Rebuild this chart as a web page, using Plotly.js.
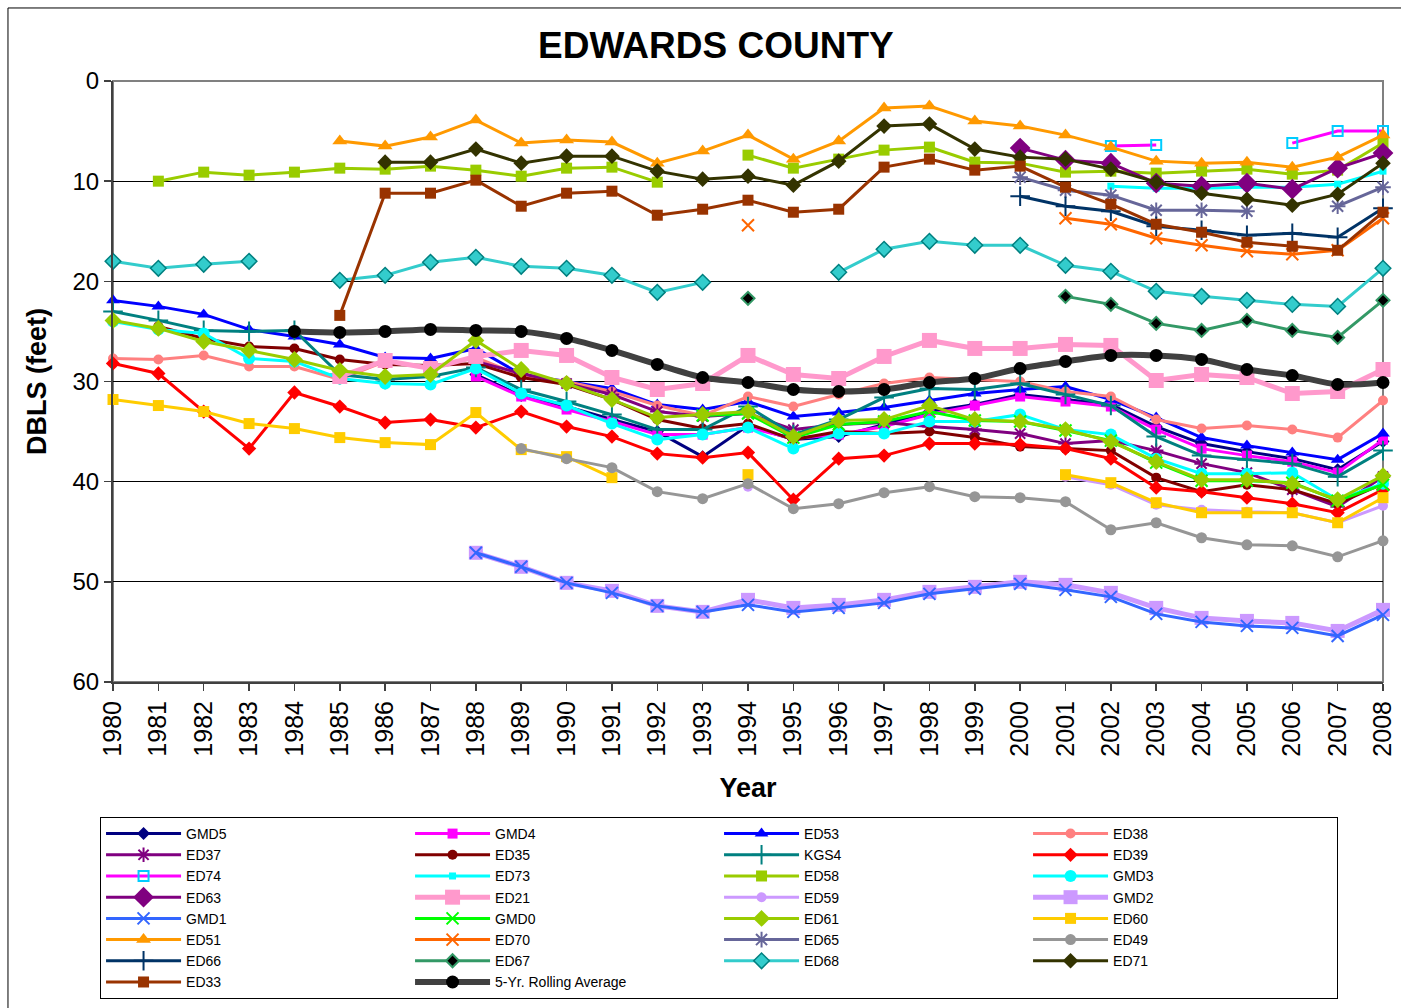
<!DOCTYPE html>
<html>
<head>
<meta charset="utf-8">
<script src="https://cdn.plot.ly/plotly-3.0.1.min.js"></script>
<style>html,body{margin:0;padding:0;background:#fff;}#chart{width:1401px;height:1008px;}</style>
</head>
<body>
<div id="chart"></div>
<script>
const n = null;
const years = [1980,1981,1982,1983,1984,1985,1986,1987,1988,1989,1990,1991,1992,1993,1994,1995,1996,1997,1998,1999,2000,2001,2002,2003,2004,2005,2006,2007,2008];

const GMD5 = [n,n,n,n,n,n,n,n,29.3,31.4,32.5,33.8,35.0,37.5,34.4,35.8,35.5,34.3,33.0,32.3,31.3,31.8,32.3,34.5,36.2,37.0,37.7,38.8,36.0];
const GMD4 = [n,n,n,n,n,n,n,n,29.5,31.5,32.8,34.0,35.3,35.3,34.6,35.7,35.3,34.5,33.3,32.4,31.5,32.0,32.5,34.8,36.7,37.4,38.0,39.1,35.8];
const ED53 = [21.9,22.5,23.3,24.8,25.5,26.3,27.6,27.7,26.7,29.3,30.0,30.7,32.3,32.8,32.0,33.5,33.1,32.6,31.9,31.2,30.8,30.5,31.8,33.6,35.6,36.4,37.1,37.8,35.2];
const ED38 = [27.7,27.8,27.4,28.5,28.5,29.8,28.0,28.6,27.6,29.4,30.0,31.0,32.4,33.4,31.5,32.5,31.3,30.2,29.6,29.8,30.0,31.0,31.5,33.8,34.7,34.4,34.8,35.6,31.9];
const ED37 = [n,n,n,n,n,n,n,n,28.0,29.2,30.2,31.3,33.0,33.5,33.2,34.8,34.3,34.1,34.5,34.8,35.2,36.2,35.9,36.9,38.2,39.1,40.8,42.5,39.5];
const ED35 = [n,24.5,25.7,26.5,26.7,27.8,28.3,28.4,28.2,29.6,30.3,31.8,33.8,34.7,34.2,35.8,35.0,35.2,35.0,35.6,36.5,36.7,36.9,39.6,41.0,40.3,40.8,42.2,40.2];
const KGS4 = [23.0,23.9,24.9,25.0,24.9,29.3,29.8,29.5,28.6,30.8,32.0,33.3,34.8,34.8,32.5,35.3,33.8,31.6,30.7,30.8,30.2,31.3,32.4,35.5,37.4,37.8,38.2,39.5,36.9];
const ED39 = [28.2,29.2,33.0,36.7,31.1,32.5,34.1,33.8,34.6,33.0,34.5,35.5,37.2,37.6,37.1,41.8,37.7,37.4,36.2,36.2,36.3,36.7,37.7,40.6,41.0,41.6,42.2,43.1,40.8];
const ED74 = [n,n,n,n,n,n,n,n,n,n,n,n,n,n,n,n,n,n,n,n,n,n,6.5,6.4,n,n,6.2,5.0,5.0];
const ED73 = [n,n,n,n,n,n,n,n,n,n,n,n,n,n,n,n,n,n,n,n,n,n,10.5,10.7,10.7,10.6,10.6,10.3,9.0];
const ED58 = [n,10.0,9.1,9.4,9.1,8.7,8.8,8.5,8.9,9.5,8.7,8.6,10.1,n,7.4,8.7,7.8,6.9,6.6,8.1,8.2,9.1,9.0,9.2,9.0,8.8,9.3,8.9,6.2];
const GMD3 = [24.0,24.8,25.2,27.7,28.0,29.7,30.2,30.3,28.7,31.2,32.4,34.2,35.8,35.3,34.6,36.7,35.2,35.2,34.0,34.0,33.3,34.8,35.3,37.7,39.2,39.2,39.1,41.8,40.2];
const ED63 = [n,n,n,n,n,n,n,n,n,n,n,n,n,n,n,n,n,n,n,n,6.7,7.9,8.2,10.2,10.5,10.2,10.8,8.7,7.2];
const ED21 = [n,n,n,n,n,29.5,27.9,28.7,27.5,26.9,27.4,29.6,30.8,30.2,27.4,29.3,29.7,27.5,25.9,26.7,26.7,26.3,26.4,29.9,29.3,29.6,31.2,31.0,28.8];
const ED59 = [n,n,n,n,n,n,n,n,n,n,n,n,n,n,40.5,n,n,n,n,n,n,39.5,40.3,42.3,42.8,43.0,43.1,44.1,42.4];
const GMD2 = [n,n,n,n,n,n,n,n,47.1,48.5,50.1,50.9,52.4,53.0,51.8,52.6,52.3,51.8,51.0,50.5,50.0,50.3,51.1,52.6,53.6,53.9,54.1,54.9,52.8];
const GMD1 = [n,n,n,n,n,n,n,n,47.1,48.5,50.1,51.1,52.4,53.0,52.3,53.0,52.6,52.1,51.2,50.7,50.2,50.8,51.5,53.2,54.0,54.4,54.6,55.4,53.3];
const GMD0 = [n,n,n,n,n,n,n,n,n,n,n,n,n,33.4,33.2,35.6,34.3,34.0,33.0,33.9,34.0,34.9,35.9,38.1,39.9,39.9,40.1,41.9,40.3];
const ED61 = [23.9,24.7,26.0,26.9,27.8,28.9,29.5,29.3,25.9,28.8,30.2,31.8,33.6,33.3,33.0,35.5,33.9,33.8,32.4,33.8,34.0,34.8,36.0,38.0,39.8,39.8,40.2,41.8,39.4];
const ED60 = [31.8,32.4,33.0,34.2,34.7,35.6,36.1,36.3,33.1,36.8,37.5,39.6,n,n,39.3,n,n,n,n,n,n,39.3,40.1,42.1,43.1,43.1,43.1,44.1,41.6];
const ED51 = [n,n,n,n,n,6.0,6.5,5.6,3.9,6.2,5.9,6.1,8.2,7.0,5.4,7.8,6.0,2.7,2.5,4.0,4.5,5.4,6.6,8.0,8.2,8.1,8.6,7.6,5.4];
const ED70 = [n,n,n,n,n,n,n,n,n,n,n,n,n,n,14.4,n,n,n,n,n,n,13.7,14.3,15.7,16.4,17.0,17.3,16.9,13.7];
const ED65 = [n,n,n,n,n,n,n,n,n,n,n,n,n,n,n,n,n,n,n,n,9.6,10.9,11.4,12.9,12.9,13.0,n,12.5,10.6];
const ED49 = [n,n,n,n,n,n,n,n,n,36.7,37.7,38.6,41.0,41.7,40.2,42.7,42.2,41.1,40.5,41.5,41.6,42.0,44.8,44.1,45.6,46.3,46.4,47.5,45.9];
const ED66 = [n,n,n,n,n,n,n,n,n,n,n,n,n,n,n,n,n,n,n,n,11.5,12.5,13.0,14.5,14.9,15.4,15.2,15.6,12.7];
const ED67 = [n,n,n,n,n,n,n,n,n,n,n,n,n,n,21.7,n,n,n,n,n,n,21.5,22.3,24.2,24.9,23.9,24.9,25.6,21.9];
const ED68 = [18.0,18.7,18.3,18.0,n,19.9,19.4,18.1,17.6,18.5,18.7,19.4,21.1,20.1,n,n,19.1,16.8,16.0,16.4,16.4,18.4,19.0,21.0,21.5,21.9,22.3,22.5,18.7];
const ED71 = [n,n,n,n,n,n,8.1,8.1,6.8,8.2,7.5,7.5,9.0,9.8,9.5,10.4,8.0,4.5,4.3,6.8,7.6,7.8,8.8,10.1,11.2,11.8,12.4,11.3,8.2];
const ED33 = [n,n,n,n,n,23.4,11.2,11.2,9.9,12.5,11.2,11.0,13.4,12.8,11.9,13.1,12.8,8.6,7.8,8.9,8.5,10.6,12.3,14.3,15.1,16.1,16.5,16.9,13.1];
const ROLL5 = [n,n,n,n,25.0,25.1,25.0,24.8,24.9,25.0,25.7,26.9,28.3,29.6,30.1,30.8,31.0,30.8,30.1,29.7,28.7,28.0,27.4,27.4,27.8,28.8,29.4,30.3,30.1];

const FONT = 'Liberation Sans, Arial, sans-serif';

function tr(name, y, lineColor, symbol, size, opts) {
  opts = opts || {};
  const open = symbol.indexOf('-open') >= 0;
  const marker = {symbol: symbol, size: size, color: opts.mcolor || lineColor};
  if (open) marker.line = {color: opts.mcolor || lineColor, width: opts.mlw || 2};
  else if (opts.outline) marker.line = {color: opts.outline, width: opts.mlw || 1.5};
  return {
    type: 'scatter', mode: 'lines+markers', name: name, x: years, y: y,
    connectgaps: false, cliponaxis: false,
    line: {color: lineColor, width: opts.lw || 3, shape: opts.shape || 'linear', smoothing: 0.8},
    marker: marker, hoverinfo: 'skip'
  };
}

const traces = [
  tr('GMD5', GMD5, '#000080', 'diamond', 10),
  tr('GMD4', GMD4, '#FF00FF', 'square', 10),
  tr('ED53', ED53, '#0000FF', 'triangle-up', 12),
  tr('ED38', ED38, '#FF8080', 'circle', 10),
  tr('ED37', ED37, '#800080', 'asterisk-open', 12),
  tr('ED35', ED35, '#800000', 'circle', 10),
  tr('KGS4', KGS4, '#008080', 'cross-thin-open', 14),
  tr('ED39', ED39, '#FF0000', 'diamond', 11),
  tr('ED74', ED74, '#FF00FF', 'square-open', 10, {mcolor: '#00CCFF'}),
  tr('ED73', ED73, '#00FFFF', 'square', 7),
  tr('ED58', ED58, '#99CC00', 'square', 11),
  tr('GMD3', GMD3, '#00FFFF', 'circle', 12),
  tr('ED63', ED63, '#800080', 'diamond', 16),
  tr('ED21', ED21, '#FF99CC', 'square', 15, {lw: 5}),
  tr('ED59', ED59, '#CC99FF', 'circle', 10),
  tr('GMD2', GMD2, '#CC99FF', 'square', 14, {lw: 5}),
  tr('GMD1', GMD1, '#3366FF', 'x-thin-open', 12),
  tr('GMD0', GMD0, '#00FF00', 'x-thin-open', 12),
  tr('ED61', ED61, '#99CC00', 'diamond', 13),
  tr('ED60', ED60, '#FFCC00', 'square', 11),
  tr('ED51', ED51, '#FF9900', 'triangle-up', 13),
  tr('ED70', ED70, '#FF6600', 'x-thin-open', 12),
  tr('ED65', ED65, '#666699', 'asterisk-open', 13),
  tr('ED49', ED49, '#969696', 'circle', 11),
  tr('ED66', ED66, '#003366', 'cross-thin-open', 14),
  tr('ED67', ED67, '#339966', 'diamond', 10, {mcolor: '#000000', outline: '#339966', mlw: 2}),
  tr('ED68', ED68, '#33CCCC', 'diamond', 12, {outline: '#008080', mlw: 1.5}),
  tr('ED71', ED71, '#333300', 'diamond', 12),
  tr('ED33', ED33, '#993300', 'square', 11),
  tr('5-Yr. Rolling Average', ROLL5, '#404040', 'circle', 13, {lw: 6, mcolor: '#000000', shape: 'spline'})
];

const layout = {
  width: 1401, height: 1008,
  paper_bgcolor: '#ffffff', plot_bgcolor: '#ffffff',
  margin: {l: 113, r: 18, t: 81, b: 326, pad: 0, autoexpand: false},
  font: {family: FONT, color: '#000000'},
  showlegend: true,
  title: {text: '<b>EDWARDS COUNTY</b>', font: {family: FONT, size: 37, color: '#000'},
          xref: 'container', x: 0.511, xanchor: 'center', yref: 'container', y: 0.955, yanchor: 'middle'},
  xaxis: {
    range: [1980, 2008], dtick: 1, tick0: 1980, tickangle: -90,
    tickfont: {family: FONT, size: 25, color: '#000'},
    ticks: 'outside', ticklen: 7, tickwidth: 1.5, tickcolor: '#404040',
    showline: true, linecolor: '#404040', linewidth: 2,
    showgrid: false, zeroline: false,
    title: {text: '<b>Year</b>', font: {family: FONT, size: 27, color: '#000'}, standoff: 22}
  },
  yaxis: {
    range: [60, 0], dtick: 10, tick0: 0,
    tickfont: {family: FONT, size: 24, color: '#000'},
    ticks: 'outside', ticklen: 7, tickwidth: 1.5, tickcolor: '#404040',
    showline: true, linecolor: '#404040', linewidth: 2,
    showgrid: true, gridcolor: '#000000', gridwidth: 1, zeroline: false,
    title: {text: '<b>DBLS (feet)</b>', font: {family: FONT, size: 27, color: '#000'}, standoff: 18}
  },
  legend: {
    orientation: 'h', x: -0.0102, xanchor: 'left', y: -0.2246, yanchor: 'top',
    bgcolor: '#ffffff', bordercolor: '#000000', borderwidth: 1,
    font: {family: FONT, size: 14, color: '#000'},
    entrywidth: 219, entrywidthmode: 'pixels', itemwidth: 75, traceorder: 'normal'
  },
  shapes: [
    {type: 'rect', xref: 'paper', yref: 'paper', x0: 0, x1: 1, y0: 0, y1: 1,
     line: {color: '#808080', width: 2}, layer: 'below'},
    {type: 'line', xref: 'paper', yref: 'paper', x0: -0.0827, x1: -0.0827, y0: 1.1215, y1: -0.56,
     line: {color: '#000000', width: 1}},
    {type: 'line', xref: 'paper', yref: 'paper', x0: -0.0827, x1: 1.02, y0: 1.1215, y1: 1.1215,
     line: {color: '#000000', width: 1}}
  ]
};

Plotly.newPlot('chart', traces, layout, {displayModeBar: false, staticPlot: true});
</script>
</body>
</html>
